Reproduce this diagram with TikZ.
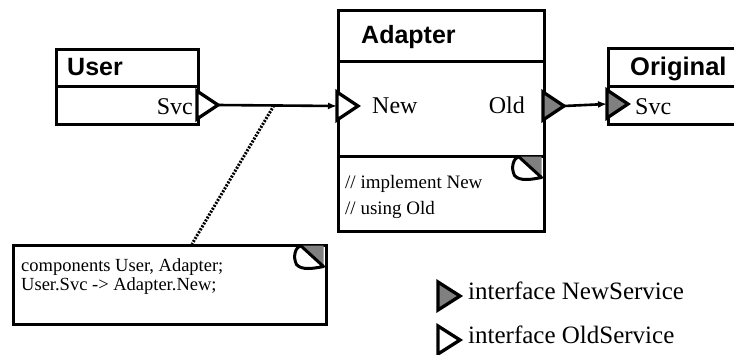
\documentclass[tikz,border=0pt]{standalone}
\usepackage{fontspec}
\setmainfont{Liberation Serif}
\newfontfamily\headfont{Liberation Sans}
\usetikzlibrary{arrows.meta,shapes.geometric}

\tikzset{
  comp/.style={draw, line width=3.3pt, fill=white, anchor=north west, inner sep=0pt},
  head/.style={anchor=base west, inner sep=0pt, font=\headfont\bfseries\fontsize{25}{30}\selectfont},
  portname/.style={inner sep=0pt, font=\fontsize{24}{28}\selectfont},
  codeline/.style={anchor=base west, inner sep=0pt, font=\fontsize{18.5}{22}\selectfont},
  port/.style={shape=isosceles triangle, isosceles triangle stretches, draw,
    line width=3.3pt, line join=miter, inner sep=0pt, outer sep=0pt,
    minimum width=28pt, minimum height=21pt, anchor=lower side},
  newsvc/.style={port, fill=black!50},
  oldsvc/.style={port, fill=white},
  wire/.style={line width=2.6pt, -{Latex[length=9pt,width=7pt]}},
  pics/dogear/.style={code={
    \fill[black!50] (-23,0) -- (0,0) -- (0,21) -- cycle;
    \draw[line width=3pt, fill=white, line join=round]
      (-23,0) -- (0,21) .. controls (-10,23) and (-22,25) .. (-27,19)
      .. controls (-31,11) and (-28,2) .. (-23,0) -- cycle;
  }}
}

\begin{document}
\begin{tikzpicture}[x=1pt, y=-1pt]
\clip (0,0) rectangle (734,354);

% User
\node[comp, minimum width=142pt, minimum height=37pt] (userhead) at (55,48) {};
\node[comp, minimum width=142pt, minimum height=38pt] (userbody) at (55,85) {};
\node[head] (usertitle) at (67,75) {User};
\node[portname, anchor=base east] (usersvcname) at (193,114) {Svc};
\node[oldsvc] (usersvc) at (197,105) {};

% Adapter
\node[comp, minimum width=206pt, minimum height=51pt] (adhead) at (337,9) {};
\node[comp, minimum width=206pt, minimum height=95pt] (adbody) at (337,60) {};
\node[comp, minimum width=206pt, minimum height=75pt] (adnote) at (337,155) {};
\node[head] (adtitle) at (361,43) {Adapter};
\node[oldsvc] (newport) at (337,106) {};
\node[newsvc] (oldport) at (543,106) {};
\node[portname, anchor=base west] (newname) at (372,113) {New};
\node[portname, anchor=base east] (oldname) at (525,113) {Old};
\node[codeline, font=\fontsize{19}{22}\selectfont] (impl1) at (345,188) {// implement New};
\node[codeline, font=\fontsize{19}{22}\selectfont] (impl2) at (345,214) {// using Old};
\pic at (541.5,156.5) {dogear};

% Original
\node[comp, minimum width=150pt, minimum height=38pt] (orighead) at (607,47) {};
\node[comp, minimum width=150pt, minimum height=38pt] (origbody) at (607,85) {};
\node[head, font=\headfont\bfseries\fontsize{25.5}{30}\selectfont] (origtitle) at (630,75) {Original};
\node[newsvc] (origsvc) at (607,104) {};
\node[portname, anchor=base west] (origsvcname) at (635,114) {Svc};

% connections
\draw[wire] (usersvc.apex) -- (newport.lower side) coordinate[pos=0.47] (tap);
\draw[wire] (oldport.apex) -- (origsvc.lower side);

% configuration note
\node[comp, minimum width=313pt, minimum height=79pt] (config) at (12,244) {};
\node[codeline] (cfg1) at (21,271) {components User, Adapter;};
\node[codeline] (cfg2) at (21,290) {User.Svc -> Adapter.New;};
\pic at (323.5,245.5) {dogear};
\coordinate (cfgtop) at (192,244);
\draw[line width=3pt, dash pattern=on 2pt off 1.4pt] (tap) -- (cfgtop);

% legend
\node[newsvc, minimum height=22pt] (keynew) at (438,296) {};
\node[oldsvc, minimum height=22pt] (keyold) at (438,340) {};
\node[portname, anchor=base west, font=\fontsize{25}{30}\selectfont] (keynewtext) at (468,299) {interface NewService};
\node[portname, anchor=base west, font=\fontsize{25}{30}\selectfont] (keyoldtext) at (468,343) {interface OldService};
\end{tikzpicture}
\end{document}
